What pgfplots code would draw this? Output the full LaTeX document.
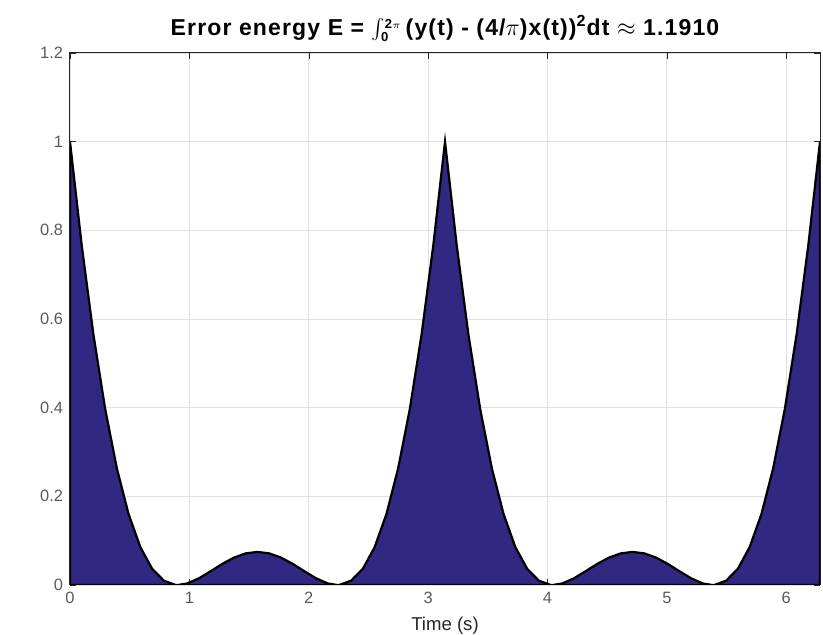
\documentclass[border=0pt]{standalone}
\usepackage{fontspec}
\setmainfont{Liberation Sans}
\usepackage{pgfplots}
\pgfplotsset{compat=1.18}
\definecolor{fillblue}{RGB}{50,40,130}
\definecolor{axgray}{RGB}{38,38,38}
\definecolor{tickgray}{RGB}{90,90,90}
\begin{document}
\begin{tikzpicture}
\begin{axis}[
  name=ax,
  scale only axis,
  width=375pt, height=266pt,
  xmin=0, xmax=6.2832, ymin=0, ymax=1.2,
  xtick={0,1,2,3,4,5,6},
  ytick={0,0.2,0.4,0.6,0.8,1,1.2},
  yticklabels={0,0.2,0.4,0.6,0.8,1,1.2},
  xticklabels={0,1,2,3,4,5,6},
  tick label style={font=\fontsize{8.2}{9}\selectfont, text=tickgray},
  grid=major,
  grid style={color=black!12, line width=0.4pt},
  axis line style={color=axgray, line width=0.5pt},
  tick style={color=axgray},
  tick align=inside,
  major tick length=3pt,
  xlabel={Time (s)},
  xlabel style={font=\fontsize{9.3}{10}\selectfont, text=axgray, yshift=0pt},
  title={\addfontfeatures{LetterSpace=5}\bfseries Error energy E = $\int_{\mbox{\fontsize{6.5}{6}\selectfont\bfseries 0}}^{\raisebox{-2pt}{\fontsize{6.5}{6}\selectfont\bfseries 2$\scriptscriptstyle\pi$}}$\,(y(t) - (4/$\pi$)x(t))\textsuperscript{2}dt $\approx$ 1.1910},
  title style={font=\fontsize{11.5}{12}\selectfont, yshift=-4pt},
  axis on top=false,
]
\addplot[draw=black, line width=1.1pt, fill=fillblue] coordinates {
(0,0)
(0.0000,1.000000) (0.0982,0.765977) (0.1963,0.564907) (0.2945,0.397402) (0.3927,0.262915)
(0.4909,0.159839) (0.5890,0.085630) (0.6872,0.036966) (0.7854,0.009937) (0.8836,0.000249)
(0.9033,0.000000)
(0.9817,0.003441) (1.0799,0.015104) (1.1781,0.031089) (1.2763,0.047705) (1.3744,0.061889)
(1.4726,0.071347) (1.5708,0.074660)
(1.6690,0.071347) (1.7671,0.061889) (1.8653,0.047705) (1.9635,0.031089) (2.0617,0.015104)
(2.1598,0.003441) (2.2383,0.000000) (2.2580,0.000249) (2.3562,0.009937) (2.4544,0.036966)
(2.5525,0.085630) (2.6507,0.159839) (2.7489,0.262915) (2.8471,0.397402) (2.9452,0.564907)
(3.0434,0.765977) (3.1416,1.000000)
(3.2398,0.765977) (3.3379,0.564907) (3.4361,0.397402) (3.5343,0.262915)
(3.6325,0.159839) (3.7306,0.085630) (3.8288,0.036966) (3.9270,0.009937) (4.0252,0.000249)
(4.0449,0.000000)
(4.1233,0.003441) (4.2215,0.015104) (4.3197,0.031089) (4.4179,0.047705) (4.5160,0.061889)
(4.6142,0.071347) (4.7124,0.074660)
(4.8106,0.071347) (4.9087,0.061889) (5.0069,0.047705) (5.1051,0.031089) (5.2033,0.015104)
(5.3014,0.003441) (5.3799,0.000000) (5.3996,0.000249) (5.4978,0.009937) (5.5960,0.036966)
(5.6941,0.085630) (5.7923,0.159839) (5.8905,0.262915) (5.9887,0.397402) (6.0868,0.564907)
(6.1850,0.765977) (6.2832,1.000000)
(6.2832,0)
} -- cycle;
\end{axis}
\pgfresetboundingbox
\useasboundingbox ([xshift=-35pt,yshift=-25pt]ax.south west) rectangle ([xshift=1.5pt,yshift=26.5pt]ax.north east);
\end{tikzpicture}
\end{document}
